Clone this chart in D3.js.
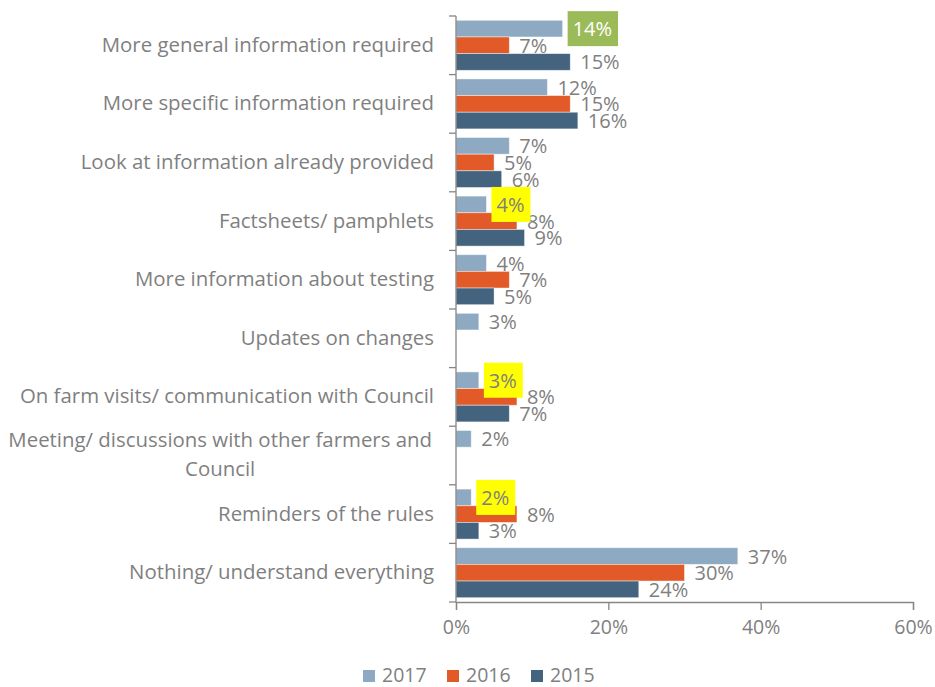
<!DOCTYPE html>
<html>
<head>
<meta charset="utf-8">
<script src="https://cdn.jsdelivr.net/npm/d3@7"></script>
<style>
  html, body { margin: 0; padding: 0; background: #fff; }
  svg { display: block; }
  text { font-family: "Open Sans", Lato, sans-serif; fill: #7f7f7f; }
</style>
</head>
<body>
<svg id="chart" width="935" height="687"></svg>
<script>
// Categories (top to bottom); two-line labels use "\n"
const categories = [
  "More general information required",
  "More specific information required",
  "Look at information already provided",
  "Factsheets/ pamphlets",
  "More information about testing",
  "Updates on changes",
  "On farm visits/ communication with Council",
  "Meeting/ discussions with other farmers and\nCouncil",
  "Reminders of the rules",
  "Nothing/ understand everything"
];
const seriesNames = ["2017", "2016", "2015"];
const values2017 = [0.14, 0.12, 0.07, 0.04, 0.04, 0.03, 0.03, 0.02, 0.02, 0.37];
const values2016 = [0.07, 0.15, 0.05, 0.08, 0.07, null, 0.08, null, 0.08, 0.30];
const values2015 = [0.15, 0.16, 0.06, 0.09, 0.05, null, 0.07, null, 0.03, 0.24];
const xTicks = [0, 0.2, 0.4, 0.6];
// Value labels that carry a coloured background: [category index, series, background, text colour]
const highlightedLabels = [
  [0, "2017", "#9BBB59", "#ffffff"],
  [3, "2017", "#FFFF00", "#7f7f7f"],
  [6, "2017", "#FFFF00", "#7f7f7f"],
  [8, "2017", "#FFFF00", "#7f7f7f"]
];

const colors = { "2017": "#8EAAC3", "2016": "#E25A27", "2015": "#43637F" };
const seriesValues = { "2017": values2017, "2016": values2016, "2015": values2015 };

const svg = d3.select("#chart");
const catFont = 20.4;
const valueFont = 20;
const axisFont = 19.5;

const x = d3.scaleLinear().domain([0, 0.6]).range([456, 913]);
const y = d3.scaleBand().domain(categories).range([16, 602]).paddingInner(0.147).paddingOuter(0.0735);
const ySub = d3.scaleBand().domain(seriesNames).range([0, y.bandwidth()]);
const pct = d3.format(".0%");

// Flatten into records
const records = [];
categories.forEach((c, i) => {
  seriesNames.forEach(s => {
    const v = seriesValues[s][i];
    if (v !== null && v !== undefined) records.push({ cat: c, idx: i, series: s, value: v });
  });
});

// Bars
svg.append("g").selectAll("rect").data(records).join("rect")
  .attr("x", x(0))
  .attr("y", d => y(d.cat) + ySub(d.series))
  .attr("width", d => x(d.value) - x(0))
  .attr("height", ySub.bandwidth())
  .attr("fill", d => colors[d.series])
  .attr("stroke", "rgba(255,255,255,0.55)")
  .attr("stroke-width", 0.8);

// Y axis: line and ticks at category boundaries
const axisColor = "#868686";
const gy = svg.append("g");
const step = y.step();
const y0 = y.range()[0];
gy.append("line").attr("x1", x(0)).attr("x2", x(0)).attr("y1", y0).attr("y2", y.range()[1])
  .attr("stroke", axisColor).attr("stroke-width", 1.3);
d3.range(categories.length + 1).forEach(k => {
  gy.append("line").attr("x1", x(0) - 7).attr("x2", x(0))
    .attr("y1", y0 + k * step).attr("y2", y0 + k * step)
    .attr("stroke", axisColor).attr("stroke-width", 1.3);
});

// X axis
const gx = svg.append("g").attr("transform", "translate(0,602)")
  .call(d3.axisBottom(x).tickValues(xTicks).tickFormat(pct).tickSize(8).tickPadding(10));
gx.select(".domain").attr("stroke", axisColor).attr("stroke-width", 1.3);
gx.selectAll(".tick line").attr("stroke", axisColor).attr("stroke-width", 1.3);
gx.selectAll(".tick text").attr("font-size", axisFont).attr("font-family", null).attr("fill", "#7f7f7f");

// Category labels
categories.forEach(c => {
  const lines = c.split("\n");
  const cy = y(c) + y.bandwidth() / 2;
  if (lines.length === 1) {
    svg.append("text").attr("x", 434).attr("y", cy + 6.5)
      .attr("text-anchor", "end").attr("font-size", catFont).text(c);
  } else {
    const t = svg.append("text").attr("font-size", catFont).attr("text-anchor", "middle");
    t.append("tspan").attr("x", 0).attr("y", cy - 8.8).text(lines[0]);
    t.append("tspan").attr("x", 0).attr("y", cy + 20.5).text(lines[1]);
    const w = t.node().getBBox().width;
    t.selectAll("tspan").attr("x", 432 - w / 2);
  }
});

// Value labels (drawn 2015 first so 2017 boxes sit on top)
const order = ["2015", "2016", "2017"];
const labelG = svg.append("g");
order.forEach(s => {
  records.filter(d => d.series === s).forEach(d => {
    const bx = x(d.value) + 10;
    const by = y(d.cat) + ySub(d.series) + ySub.bandwidth() / 2 + 7.5;
    const hl = highlightedLabels.find(h => h[0] === d.idx && h[1] === d.series);
    const g = labelG.append("g");
    const t = g.append("text").attr("x", bx).attr("y", by)
      .attr("font-size", valueFont).text(pct(d.value));
    if (hl) {
      const bb = t.node().getBBox();
      g.insert("rect", "text")
        .attr("x", bb.x - 5).attr("y", by - 25)
        .attr("width", bb.width + 11).attr("height", 35)
        .attr("fill", hl[2]);
      t.style("fill", hl[3]);
    }
  });
});

// Legend
const legend = svg.append("g");
seriesNames.forEach((s, i) => {
  const lx = 363 + i * 84;
  legend.append("rect").attr("x", lx).attr("y", 670).attr("width", 12).attr("height", 12).attr("fill", colors[s]);
  legend.append("text").attr("x", lx + 19).attr("y", 682).attr("font-size", axisFont).text(s);
});
</script>
</body>
</html>
